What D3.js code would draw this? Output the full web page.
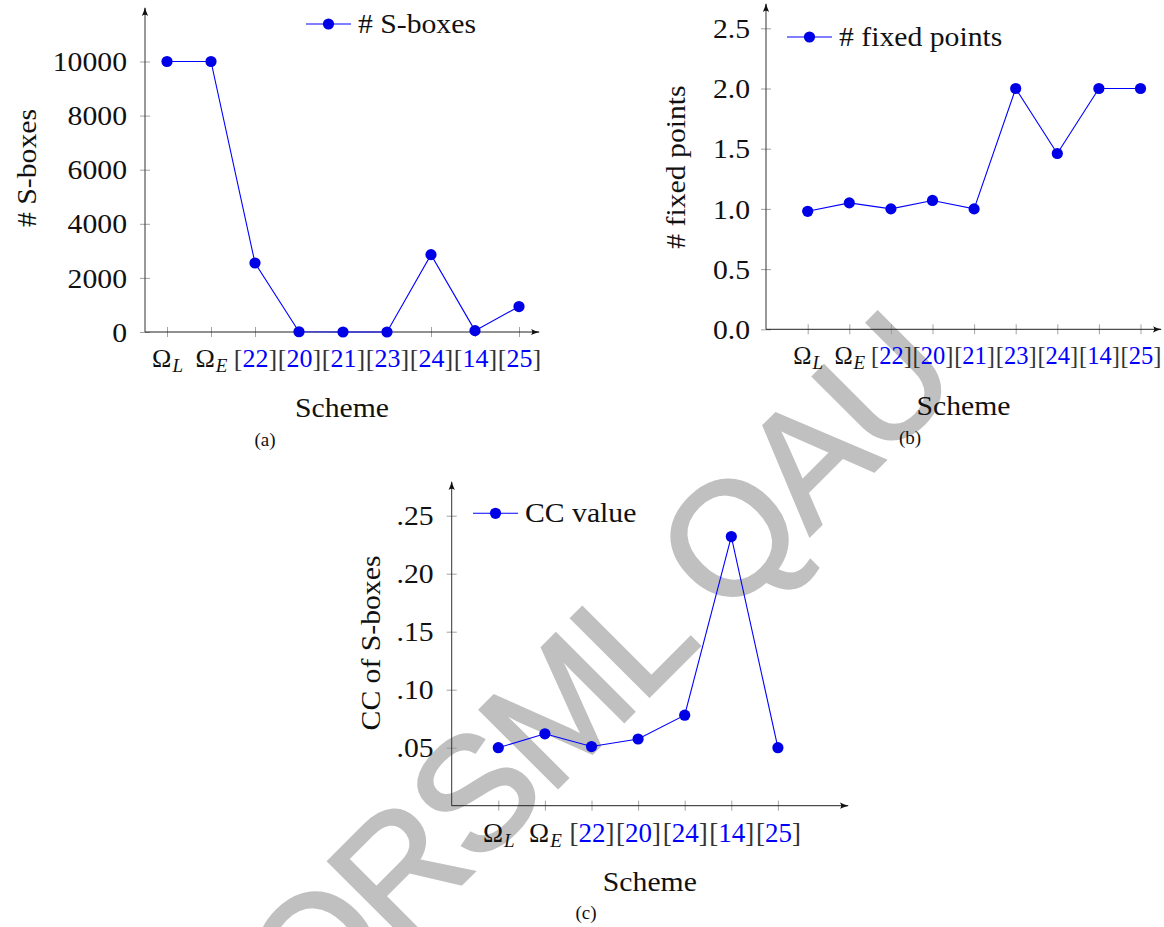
<!DOCTYPE html>
<html>
<head>
<meta charset="utf-8">
<script src="https://cdn.jsdelivr.net/npm/d3@7"></script>
<style>
  body { margin: 0; background: #fff; }
  svg { display: block; }
  text { font-family: "Liberation Serif", "Times New Roman", serif; }
</style>
</head>
<body>
<svg id="chart" width="1164" height="927"></svg>
<script>
// categories (x tick labels)
var schemesAB = ['ΩL', 'ΩE', '[22]', '[20]', '[21]', '[23]', '[24]', '[14]', '[25]'];
var schemesC = ['ΩL', 'ΩE', '[22]', '[20]', '[24]', '[14]', '[25]'];

// series values
var sboxCounts = [10000, 10000, 2550, 10, 0, 0, 2860, 50, 940];
var fixedPoints = [0.98, 1.05, 1.0, 1.07, 1.0, 2.0, 1.46, 2.0, 2.0];
var ccValues = [0.050, 0.062, 0.051, 0.0575, 0.078, 0.232, 0.050];

// y ticks
var yTicksA = [0, 2000, 4000, 6000, 8000, 10000];
var yTicksB = [0, 0.5, 1.0, 1.5, 2.0, 2.5];
var yTickLabelsB = ['0.0', '0.5', '1.0', '1.5', '2.0', '2.5'];
var yTicksC = [0.05, 0.10, 0.15, 0.20, 0.25];
var yTickLabelsC = ['.05', '.10', '.15', '.20', '.25'];

var seriesNames = ['# S-boxes', '# fixed points', 'CC value'];
var yTitles = ['# S-boxes', '# fixed points', 'CC of S-boxes'];
var captions = ['(a)', '(b)', '(c)'];

var BLUE = '#0000ff';
var MARK = '#0000e6';
var FS = 27;   // px, main font
var SX = 1.1;  // widen the serif a bit, closer to the TeX font

var svg = d3.select('#chart');

// watermark first, so it sits under the plots
svg.append('text')
	.text('ORSML QAU')
	.attr('transform', 'translate(596,668) rotate(-45)')
	.attr('text-anchor', 'middle')
	.attr('dy', '0.36em')
	.style('font-family', '"Liberation Sans", Arial, sans-serif')
	.style('font-size', '160px')
	.style('letter-spacing', '-4px')
	.attr('fill', '#c0c0c0')
	.attr('stroke', '#c0c0c0')
	.attr('stroke-width', 3);

var defs = svg.append('defs');
defs.append('marker')
	.attr('id', 'arrow')
	.attr('viewBox', '0 0 10 10')
	.attr('refX', 9).attr('refY', 5)
	.attr('markerWidth', 9).attr('markerHeight', 9)
	.attr('markerUnits', 'userSpaceOnUse')
	.attr('orient', 'auto')
	.append('path')
	.attr('d', 'M0,1.5 Q5,4 10,5 Q5,6 0,8.5 Q3,5 0,1.5 Z')
	.attr('fill', '#111');

function wideText(g, str, x, y, rot, anchor) {
	return g.append('text')
		.text(str)
		.attr('transform', 'translate(' + x + ',' + y + ') rotate(' + rot + ') scale(' + SX + ',1)')
		.attr('text-anchor', anchor)
		.style('font-size', FS + 'px')
		.attr('fill', '#111');
}

var panels = [
	{cats: schemesAB, vals: sboxCounts, ticks: yTicksA, tickLabels: yTicksA.map(String),
	 ox: 145, oy: 332, axEnd: 539, axTop: 8, xr: [167, 519], yDom: [0, 10000], yRange: [332, 61.5],
	 labGap: 18, xlabFS: 26, xlabBase: 35, schemeBase: 85, yTitleX: 36, yTitleY: 168,
	 legX: 306, legY: 24, capX: 265, capY: 446},
	{cats: schemesAB, vals: fixedPoints, ticks: yTicksB, tickLabels: yTickLabelsB,
	 ox: 766, oy: 329.3, axEnd: 1161, axTop: 4, xr: [807.7, 1140.5], yDom: [0, 2.5], yRange: [329.3, 28.3],
	 labGap: 16, xlabFS: 24.5, xlabBase: 34.5, schemeBase: 86, yTitleX: 685, yTitleY: 167,
	 legX: 787, legY: 37, capX: 910, capY: 444},
	{cats: schemesC, vals: ccValues, ticks: yTicksC, tickLabels: yTickLabelsC,
	 ox: 451.7, oy: 805.7, axEnd: 848, axTop: 482, xr: [498.3, 777.9], yDom: [0, 0.25], yRange: [805.7, 515.7],
	 labGap: 18, xlabFS: 27, xlabBase: 36.5, schemeBase: 85, yTitleX: 380, yTitleY: 643,
	 legX: 473, legY: 513.3, capX: 586, capY: 919}
];

panels.forEach(function(p, i) {
	var g = svg.append('g');
	var x = d3.scalePoint().domain(p.cats).range(p.xr);
	var y = d3.scaleLinear().domain(p.yDom).range(p.yRange);

	// x axis ticks + labels
	var xa = g.append('g')
		.attr('transform', 'translate(0,' + p.oy + ')')
		.call(d3.axisBottom(x).tickSize(5).tickFormat(''));
	xa.select('.domain').remove();
	xa.selectAll('.tick line').attr('y1', -5).attr('stroke', '#999').attr('stroke-width', 0.9);
	xa.selectAll('.tick text').each(function(d) {
		var t = d3.select(this)
			.attr('y', p.xlabBase).attr('dy', null)
			.style('font-family', '"Liberation Serif", serif')
			.style('font-size', p.xlabFS + 'px')
			.attr('fill', '#111');
		t.text(null);
		if (d.charAt(0) === 'Ω') {
			t.append('tspan').text('Ω');
			t.append('tspan').text(d.slice(1))
				.style('font-size', '19px').style('font-style', 'italic')
				.attr('dy', 5).attr('dx', 1);
		} else {
			t.append('tspan').text('[').attr('fill', '#333');
			t.append('tspan').text(d.slice(1, -1)).attr('fill', BLUE);
			t.append('tspan').text(']').attr('fill', '#333');
		}
	});

	// y axis ticks + labels
	var ya = g.append('g')
		.attr('transform', 'translate(' + p.ox + ',0)')
		.call(d3.axisLeft(y).tickValues(p.ticks).tickSize(5)
			.tickFormat(function(d, k) { return p.tickLabels[k]; }));
	ya.select('.domain').remove();
	ya.selectAll('.tick line').attr('x1', 5).attr('stroke', '#999').attr('stroke-width', 0.9);
	ya.selectAll('.tick text')
		.style('font-family', '"Liberation Serif", serif')
		.style('font-size', FS + 'px')
		.attr('fill', '#111')
		.attr('x', null)
		.attr('dy', '0.34em')
		.attr('transform', 'translate(' + (-p.labGap) + ',0) scale(' + SX + ',1)');

	// axis lines with arrows
	g.append('line')
		.attr('x1', p.ox).attr('y1', p.oy).attr('x2', p.axEnd).attr('y2', p.oy)
		.attr('stroke', '#222').attr('stroke-width', 1)
		.attr('marker-end', 'url(#arrow)');
	g.append('line')
		.attr('x1', p.ox).attr('y1', p.oy).attr('x2', p.ox).attr('y2', p.axTop)
		.attr('stroke', '#333').attr('stroke-width', 1)
		.attr('marker-end', 'url(#arrow)');

	// series
	var pts = p.cats.map(function(c, k) { return [x(c), y(p.vals[k])]; });
	g.append('path')
		.attr('d', d3.line()(pts))
		.attr('fill', 'none').attr('stroke', BLUE).attr('stroke-width', 1.1);
	g.selectAll('circle.pt')
		.data(pts)
		.enter()
		.append('circle')
		.attr('class', 'pt')
		.attr('cx', function(d) { return d[0]; })
		.attr('cy', function(d) { return d[1]; })
		.attr('r', 5.6)
		.attr('fill', MARK);

	// legend (no frame)
	g.append('line')
		.attr('x1', p.legX).attr('x2', p.legX + 45)
		.attr('y1', p.legY).attr('y2', p.legY)
		.attr('stroke', BLUE).attr('stroke-width', 1.1);
	g.append('circle')
		.attr('cx', p.legX + 22.5).attr('cy', p.legY).attr('r', 5.6)
		.attr('fill', MARK);
	wideText(g, seriesNames[i], p.legX + 52, p.legY + 0.34 * FS, 0, 'start');

	// axis titles
	wideText(g, 'Scheme', (p.ox + p.axEnd) / 2, p.oy + p.schemeBase, 0, 'middle');
	wideText(g, yTitles[i], p.yTitleX, p.yTitleY, -90, 'middle');

	// caption
	g.append('text')
		.text(captions[i])
		.attr('x', p.capX).attr('y', p.capY)
		.attr('text-anchor', 'middle')
		.style('font-size', '19px').attr('fill', '#111');
});
</script>
</body>
</html>
